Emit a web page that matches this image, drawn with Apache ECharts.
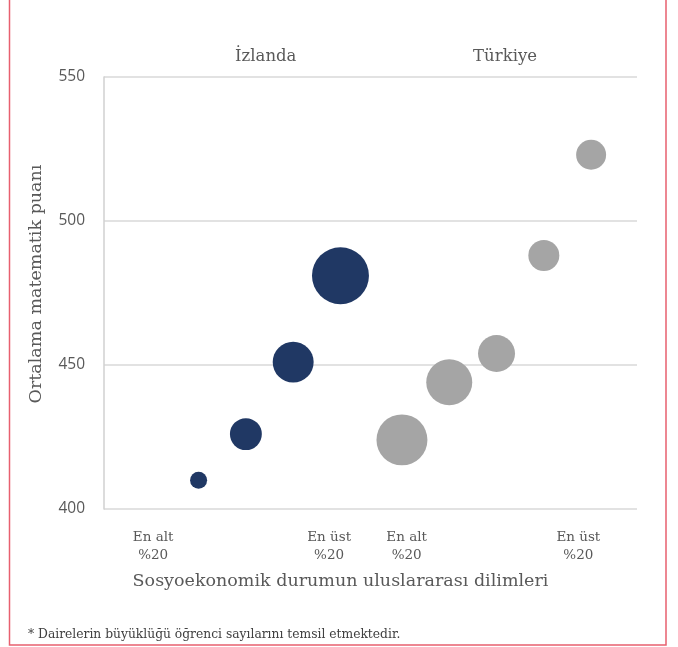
<!DOCTYPE html>
<html>
<head>
<meta charset="utf-8">
<script src="https://cdn.jsdelivr.net/npm/echarts@6/dist/echarts.min.js"></script>
<style>
html,body{margin:0;padding:0;background:#fff;}
#chart{width:678px;height:647px;}
</style>
</head>
<body>
<div id="chart"></div>
<script>
// ---- data ----
const groupNames = ['İzlanda', 'Türkiye'];
const groupNamePos = [3.42, 8.48];
const tickLabels = ['En alt\n%20', 'En üst\n%20', 'En alt\n%20', 'En üst\n%20'];
const tickLabelPos = [1.04, 4.76, 6.4, 10.03];
const yTicks = [400, 450, 500, 550];

const icelandX = [2, 3, 4, 5];
const icelandScore = [410, 426, 451, 481];
const icelandStudents = [29, 102, 168, 325];

const turkeyX = [6.3, 7.3, 8.3, 9.3, 10.3];
const turkeyScore = [424, 444, 454, 488, 523];
const turkeyStudents = [260, 212, 137, 96, 90];

const textColor = '#595959';
const serif = '"DejaVu Serif", serif';

function pts(xs, ys, ss) { return xs.map((x, i) => [x, ys[i], ss[i]]); }
const sizeFn = d => Math.sqrt(d[2]) * 3.16;

const chart = echarts.init(document.getElementById('chart'), null, {renderer: 'canvas'});
chart.setOption({
  animation: false,
  backgroundColor: '#fff',
  grid: {left: 104, right: 41, top: 77, bottom: 138, containLabel: false},
  title: {
    text: '* Dairelerin büyüklüğü öğrenci sayılarını temsil etmektedir.',
    left: 23, top: 624,
    textStyle: {fontFamily: serif, fontSize: 12.3, fontWeight: 'normal', color: '#404040'}
  },
  graphic: [{
    type: 'rect', silent: true,
    shape: {x: 9.5, y: -5, width: 656.5, height: 650},
    style: {fill: 'none', stroke: '#e8606f', lineWidth: 1.5}
  }],
  xAxis: [{
    type: 'value', min: 0, max: 11.27, position: 'bottom',
    splitLine: {show: false}, axisLine: {show: false}, axisTick: {show: false},
    axisLabel: {
      customValues: tickLabelPos, margin: 19,
      fontFamily: serif, fontSize: 13.5, color: textColor, lineHeight: 18,
      formatter: v => { const i = tickLabelPos.findIndex(p => Math.abs(p - v) < 1e-6); return i >= 0 ? tickLabels[i] : ''; }
    },
    name: 'Sosyoekonomik durumun uluslararası dilimleri',
    nameLocation: 'middle', nameGap: 63,
    nameTextStyle: {fontFamily: serif, fontSize: 17.5, color: textColor, padding: [0, 60, 0, 0]}
  }, {
    type: 'value', min: 0, max: 11.27, position: 'top',
    splitLine: {show: false}, axisLine: {show: false}, axisTick: {show: false},
    axisLabel: {
      customValues: groupNamePos, margin: 12,
      fontFamily: serif, fontSize: 16.5, color: textColor,
      formatter: v => { const i = groupNamePos.findIndex(p => Math.abs(p - v) < 1e-6); return i >= 0 ? groupNames[i] : ''; }
    }
  }],
  yAxis: {
    type: 'value', min: 400, max: 550, interval: 50,
    axisLine: {show: true, lineStyle: {color: '#d0d0d0', width: 1.5}},
    axisTick: {show: false},
    splitLine: {show: true, lineStyle: {color: '#d9d9d9', width: 1.5}},
    axisLabel: {margin: 19, fontFamily: '"Open Sans", sans-serif', fontSize: 15.5, color: textColor},
    name: 'Ortalama matematik puanı',
    nameLocation: 'middle', nameGap: 59,
    nameTextStyle: {fontFamily: serif, fontSize: 17.5, color: textColor, padding: [0, 0, 0, 18]}
  },
  series: [{
    name: groupNames[0], type: 'scatter', xAxisIndex: 0,
    data: pts(icelandX, icelandScore, icelandStudents),
    symbolSize: sizeFn,
    itemStyle: {color: '#203864', opacity: 1}
  }, {
    name: groupNames[1], type: 'scatter', xAxisIndex: 0,
    data: pts(turkeyX, turkeyScore, turkeyStudents),
    symbolSize: sizeFn,
    itemStyle: {color: '#a5a5a5', opacity: 1}
  }]
});
</script>
</body>
</html>
